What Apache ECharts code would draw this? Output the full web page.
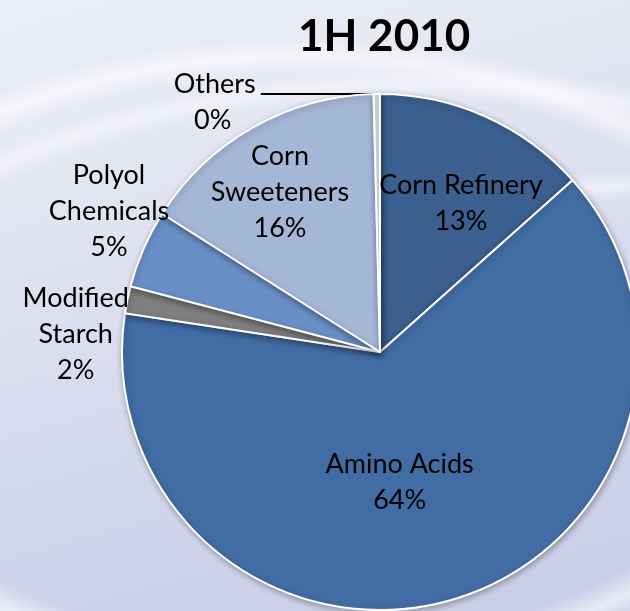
<!DOCTYPE html>
<html>
<head>
<meta charset="utf-8">
<script src="https://cdn.jsdelivr.net/npm/echarts@6/dist/echarts.min.js"></script>
<style>
  html, body { margin: 0; padding: 0; }
  body {
    width: 630px; height: 611px; overflow: hidden;
    background:
      radial-gradient(ellipse 560px 330px at 300px 360px, rgba(255,255,255,0) 86%, rgba(255,255,255,0.6) 92%, rgba(255,255,255,0) 98%),
      radial-gradient(ellipse 720px 400px at 420px 460px, rgba(255,255,255,0) 90%, rgba(255,255,255,0.45) 94%, rgba(255,255,255,0) 98%),
      radial-gradient(ellipse 500px 260px at 640px 420px, rgba(255,255,255,0) 84%, rgba(255,255,255,0.5) 90%, rgba(255,255,255,0) 96%),
      linear-gradient(165deg, #eceef6 0%, #e2e4f1 30%, #d4d8ec 62%, #c8cde7 100%);
  }
  #chart { width: 630px; height: 611px; }
</style>
</head>
<body>
<div id="chart"></div>
<script>
// Share of sales by segment, first half of 2010 (percent)
const segments = ['Corn Refinery', 'Amino Acids', 'Modified Starch', 'Polyol Chemicals', 'Corn Sweeteners', 'Others'];
const shares = [13.4, 64.0, 1.7, 4.9, 15.6, 0.4];
const sliceColors = ['#3b5f8e', '#426ca4', '#7f7f7f', '#6a8fc7', '#a5b7d7', '#dde3ee'];
// two-line label text per segment
const labelNames = ['Corn Refinery', 'Amino Acids', 'Modified\nStarch', 'Polyol\nChemicals', 'Corn\nSweeteners', 'Others'];
// label nudges from the default in-slice anchor
const labelShift = [[27, -28], [-18, 4], [-175, 9], [-150, -88], [-35, -45], [0, 0]];

const chart = echarts.init(document.getElementById('chart'), null, { renderer: 'canvas' });

const baseLabel = {
  fontFamily: 'Lato',
  fontSize: 27,
  color: '#000',
  lineHeight: 36
};

const data = segments.map((name, i) => {
  const item = {
    name: name,
    value: shares[i],
    itemStyle: { color: sliceColors[i] }
  };
  if (name === 'Others') {
    item.label = {
      position: 'outside',
      padding: [16, 0, 0, 0],
      formatter: p => '{n|Others}\n{v|' + Math.round(p.percent) + '%}',
      rich: {
        n: { fontFamily: 'Lato', fontSize: 27, color: '#000', lineHeight: 36 },
        v: { fontFamily: 'Lato', fontSize: 27, color: '#000', lineHeight: 36, width: 86, align: 'center' }
      }
    };
    item.labelLine = { show: true, length: 0, length2: 116, lineStyle: { color: '#000', width: 2 } };
  }
  return item;
});

chart.setOption({
  animation: false,
  backgroundColor: 'transparent',
  title: {
    text: '1H 2010',
    left: 293,
    top: 10,
    textStyle: { fontFamily: 'Lato', fontWeight: 'bold', fontSize: 44, color: '#000' }
  },
  series: [{
    type: 'pie',
    center: [380, 352],
    radius: [0, 258],
    startAngle: 90,
    clockwise: true,
    avoidLabelOverlap: false,
    itemStyle: {
      borderColor: '#ffffff',
      borderWidth: 2,
      shadowBlur: 6,
      shadowColor: 'rgba(0,0,0,0.3)',
      shadowOffsetX: 1,
      shadowOffsetY: 2
    },
    label: Object.assign({
      show: true,
      position: 'inside',
      align: 'center',
      formatter: p => labelNames[p.dataIndex] + '\n' + Math.round(p.percent) + '%'
    }, baseLabel),
    labelLine: { show: false },
    labelLayout: params => {
      const s = labelShift[params.dataIndex];
      if (!s[0] && !s[1]) return {};
      return { dx: s[0], dy: s[1] };
    },
    emphasis: { disabled: true },
    data: data
  }]
});
</script>
</body>
</html>
